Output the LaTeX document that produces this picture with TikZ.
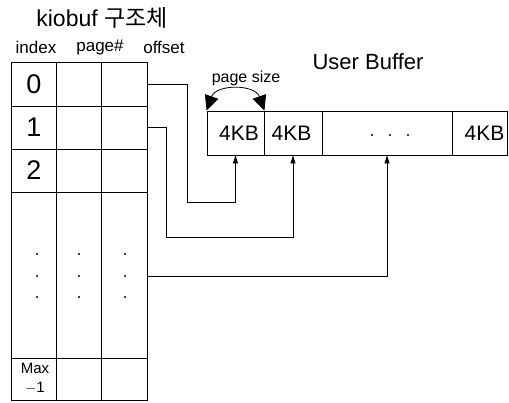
\documentclass[tikz,border=0pt]{standalone}
\usepackage{fontspec}
\setmainfont{Liberation Sans}
\newfontfamily\kofont{Noto Sans CJK KR}
\usetikzlibrary{arrows.meta}

\begin{document}
\begin{tikzpicture}[x=1pt,y=-1pt,line width=0.8pt,
    pagebox/.style={draw,minimum height=44pt,inner sep=0pt,font=\fontsize{21}{24}\selectfont},
    ptr/.style={-{Triangle[length=8pt,width=5pt]}},
    bigtip/.style={{Triangle[length=15pt,width=14pt]}-{Triangle[length=15pt,width=14pt]}},
    dotmark/.style={circle,fill,inner sep=0pt,minimum size=2.2pt}]
      \useasboundingbox (0,0) rectangle (509,402);
      % Draw the table
      \draw (11, 62) rectangle (147, 400);
      \draw (56, 62) -- (56, 400);
      \draw (101, 62) -- (101, 400);
      \draw (11, 106) -- (147, 106);
      \draw (11, 149) -- (147, 149);
      \draw (11, 192) -- (147, 192);
      \draw (11, 358) -- (147, 358);
      % Draw the headers
      \node[font=\fontsize{23}{26}\selectfont] (title) at (102, 18) {kiobuf {\kofont 구조체}};
        \node[font=\fontsize{17}{20}\selectfont] (hidx) at (36, 47) {index};
        \node[font=\fontsize{17}{20}\selectfont] (hpg) at (100, 47) {page\#};
        \node[font=\fontsize{17}{20}\selectfont] (hoff) at (164, 47) {offset};
      % Draw the index values
      \node[font=\fontsize{27}{30}\selectfont] (i0) at (34, 84) {0};
      \node[font=\fontsize{27}{30}\selectfont] (i1) at (34, 127) {1};
      \node[font=\fontsize{27}{30}\selectfont] (i2) at (34, 170) {2};
      \node[font=\fontsize{15}{19}\selectfont,align=center,inner sep=0pt] (imax) at (35, 378) {Max\\$-$1};
      \foreach \x in {37, 79, 125}
        \foreach \y in {254, 276, 297}
          \node[dotmark] at (\x, \y) {};
      % Draw the user buffer
      \node[font=\fontsize{22}{25}\selectfont] (ubuf) at (368, 62) {User Buffer};
      \node[font=\fontsize{16}{19}\selectfont] (psize) at (246, 78) {page size};
      \node[pagebox,minimum width=57pt] (c1) at (235.5, 133) {\hspace*{7pt}4KB};
      \node[pagebox,minimum width=58pt] (c2) at (293, 133) {4KB\hspace*{3pt}};
      \node[pagebox,minimum width=130pt] (c3) at (387, 133) {};
      \node[pagebox,minimum width=55pt] (c4) at (479.5, 133) {\hspace*{10pt}4KB};
      \foreach \x in {372, 390, 408}
        \node[dotmark] at (\x, 135) {};
      \draw[bigtip] (c1.north west) .. controls (216, 84) and (255, 84) .. (c1.north east);
      % Draw the pointers
      \coordinate (o0) at (147, 84);
      \coordinate (o1) at (147, 127);
      \coordinate (oN) at (147, 276);
      \draw[ptr] (o0) -| (187, 202) -| (c1.south);
      \draw[ptr] (o1) -| (166, 237) -| (c2.south);
      \draw[ptr] (oN) -| (c3.south);
    \end{tikzpicture}
\end{document}
